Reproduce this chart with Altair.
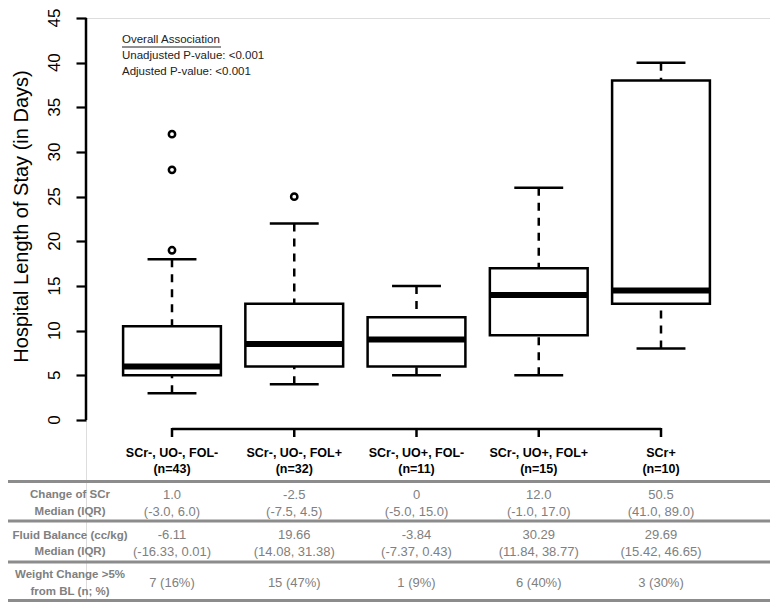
import altair as alt
import pandas as pd

# ---------------- data ----------------
groups = ["SCr-, UO-, FOL-", "SCr-, UO-, FOL+", "SCr-, UO+, FOL-", "SCr-, UO+, FOL+", "SCr+"]
n_obs = [43, 32, 11, 15, 10]
whisker_lo = [3, 4, 5, 5, 8]
q1 = [5, 6, 6, 9.5, 13]
medians = [6, 8.5, 9, 14, 14.5]
q3 = [10.5, 13, 11.5, 17, 38]
whisker_hi = [18, 22, 15, 26, 40]
outlier_group = [1, 1, 1, 2]
outlier_value = [19, 28, 32, 25]

scr_median = ["1.0", "-2.5", "0", "12.0", "50.5"]
scr_iqr = ["(-3.0, 6.0)", "(-7.5, 4.5)", "(-5.0, 15.0)", "(-1.0, 17.0)", "(41.0, 89.0)"]
fb_median = ["-6.11", "19.66", "-3.84", "30.29", "29.69"]
fb_iqr = ["(-16.33, 0.01)", "(14.08, 31.38)", "(-7.37, 0.43)", "(11.84, 38.77)", "(15.42, 46.65)"]
weight_change = ["7 (16%)", "15 (47%)", "1 (9%)", "6 (40%)", "3 (30%)"]
row_labels = ["Change of SCr\nMedian (IQR)", "Fluid Balance (cc/kg)\nMedian (IQR)",
              "Weight Change >5%\nfrom BL (n; %)"]
annotation = "Overall Association\nUnadjusted P-value: <0.001\nAdjusted P-value: <0.001"
y_ticks = list(range(0, 46, 5))

# ---------------- layout helpers ----------------
PXU = 402 / 45.0          # pixels per day
PXX = 122.25              # pixels per group


def Y(py):
    return (420 - py) / PXU


def X(px):
    return 1 + (px - 172) / PXX


idx = list(range(1, 6))
box = pd.DataFrame({
    "g": idx, "lo": whisker_lo, "q1": q1, "med": medians, "q3": q3, "hi": whisker_hi,
    "left": [i - 0.4 for i in idx], "right": [i + 0.4 for i in idx],
    "capl": [i - 0.2 for i in idx], "capr": [i + 0.2 for i in idx],
})
outl = pd.DataFrame({"g": outlier_group, "v": outlier_value})

xs = alt.Scale(domain=[X(86), X(770)], nice=False, zero=False)
ys = alt.Scale(domain=[Y(602), 45], nice=False, zero=False)
FONT = "Liberation Sans"

yax = alt.Axis(values=y_ticks, domain=False, grid=False, tickSize=10, tickWidth=2.2,
               tickColor="black", labels=False,
               title="Hospital Length of Stay (in Days)", titleFont=FONT, titleFontSize=20,
               titleFontWeight="normal", titleColor="black", titleAngle=270,
               titleX=-65, titleY=198, titleAlign="center", titleBaseline="middle")


def xq(f):
    return alt.X(f, type="quantitative", scale=xs, axis=None)


def yq(f):
    return alt.Y(f, type="quantitative", scale=ys, axis=yax)


layers = []

# y axis line
axline = pd.DataFrame({"x": [X(86)], "a": [y_ticks[0]], "b": [y_ticks[-1]]})
layers.append(alt.Chart(axline).mark_rule(color="black", strokeWidth=2.5)
              .encode(x=xq("x"), y=yq("a"), y2="b"))
# y tick labels, rotated like R's default
ylab = pd.DataFrame({"v": y_ticks, "x": [X(55)] * len(y_ticks),
                     "t": [str(v) for v in y_ticks]})
layers.append(alt.Chart(ylab).mark_text(font=FONT, fontSize=17, color="black", angle=270,
                                        align="center", baseline="middle")
              .encode(x=xq("x"), y=yq("v"), text="t:N"))

# whiskers
layers.append(alt.Chart(box).mark_rule(color="black", strokeWidth=2.5, strokeDash=[8, 7])
              .encode(x=xq("g"), y=yq("hi"), y2="q3"))
layers.append(alt.Chart(box).mark_rule(color="black", strokeWidth=2.5, strokeDash=[8, 7])
              .encode(x=xq("g"), y=yq("lo"), y2="q1"))
layers.append(alt.Chart(box).mark_rule(color="black", strokeWidth=2.5)
              .encode(x=xq("capl"), x2="capr", y=yq("hi")))
layers.append(alt.Chart(box).mark_rule(color="black", strokeWidth=2.5)
              .encode(x=xq("capl"), x2="capr", y=yq("lo")))
# boxes
layers.append(alt.Chart(box).mark_rect(fill="white", stroke="black", strokeWidth=2.5)
              .encode(x=xq("left"), x2="right", y=yq("q1"), y2="q3"))
layers.append(alt.Chart(box).mark_rule(color="black", strokeWidth=6)
              .encode(x=xq("left"), x2="right", y=yq("med")))
# outliers
layers.append(alt.Chart(outl).mark_point(shape="circle", filled=False, color="black",
                                         size=40, strokeWidth=2.5, opacity=1)
              .encode(x=xq("g"), y=yq("v")))

# bracket under the plot
brk = pd.DataFrame({"a": [1], "b": [5], "y": [Y(429)]})
layers.append(alt.Chart(brk).mark_rule(color="black", strokeWidth=2.5)
              .encode(x=xq("a"), x2="b", y=yq("y")))
brt = pd.DataFrame({"g": idx, "a": [Y(428)] * 5, "b": [Y(437)] * 5})
layers.append(alt.Chart(brt).mark_rule(color="black", strokeWidth=2.5)
              .encode(x=xq("g"), y=yq("a"), y2="b"))

# table header (first line position; following lines go below)
hdr = pd.DataFrame({"g": idx, "y": [Y(453)] * 5,
                    "t": [f"{g}\n(n={n})" for g, n in zip(groups, n_obs)]})
layers.append(alt.Chart(hdr).mark_text(font=FONT, fontSize=12.5, fontWeight="bold",
                                       color="black", lineBreak="\n", lineHeight=16,
                                       baseline="middle")
              .encode(x=xq("g"), y=yq("y"), text="t:N"))

# table values
vals = pd.DataFrame({
    "g": idx * 3,
    "y": [Y(495)] * 5 + [Y(535)] * 5 + [Y(583)] * 5,
    "t": [f"{a}\n{b}" for a, b in zip(scr_median, scr_iqr)]
         + [f"{a}\n{b}" for a, b in zip(fb_median, fb_iqr)]
         + weight_change,
})
layers.append(alt.Chart(vals).mark_text(font=FONT, fontSize=13, color="#808080",
                                        lineBreak="\n", lineHeight=16.5, baseline="middle")
              .encode(x=xq("g"), y=yq("y"), text="t:N"))

# row labels
rl = pd.DataFrame({"x": [X(70)] * 3, "y": [Y(495), Y(535.5), Y(575)], "t": row_labels})
layers.append(alt.Chart(rl).mark_text(font=FONT, fontSize=11.5, fontWeight="bold",
                                      color="#808080", lineBreak="\n", lineHeight=16.5,
                                      baseline="middle")
              .encode(x=xq("x"), y=yq("y"), text="t:N"))

# table lines
tl = pd.DataFrame({"a": [X(8)] * 4, "b": [X(770)] * 4,
                   "y": [Y(481.5), Y(521), Y(562), Y(600.5)]})
layers.append(alt.Chart(tl).mark_rule(color="#8c8c8c", strokeWidth=3)
              .encode(x=xq("a"), x2="b", y=yq("y")))

# annotation
ann = pd.DataFrame({"x": [X(122)], "y": [Y(40)], "t": [annotation]})
layers.append(alt.Chart(ann).mark_text(font=FONT, fontSize=11.5,
                                       color="#222222", align="left", lineBreak="\n",
                                       lineHeight=16, baseline="middle")
              .encode(x=xq("x"), y=yq("y"), text="t:N"))
ul = pd.DataFrame({"a": [X(122)], "b": [X(221)], "y": [Y(47)]})
layers.append(alt.Chart(ul).mark_rule(color="#222222", strokeWidth=1)
              .encode(x=xq("a"), x2="b", y=yq("y")))

chart = alt.layer(*layers).properties(
    width=684, height=584,
    padding={"left": 78, "top": 10, "right": 0, "bottom": 0},
    autosize=alt.AutoSizeParams(type="none"),
).configure_view(stroke=None).configure(background="white")

chart.save("out.html", embed_options={"renderer": "svg", "actions": False})
